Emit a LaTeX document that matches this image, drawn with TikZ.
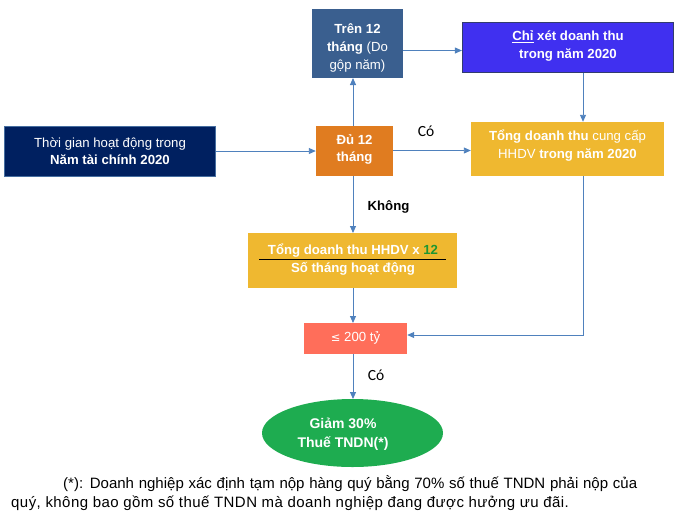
\documentclass[tikz,border=0pt]{standalone}
\usepackage{fontspec}
\setmainfont{Liberation Sans}
\newfontfamily\calib{Carlito}
\newfontfamily\dejavu{DejaVu Sans}
\newfontfamily\footfont[LetterSpace=3]{Liberation Sans}
\usetikzlibrary{arrows.meta,shapes.geometric}
\definecolor{navy}{RGB}{0,32,96}
\definecolor{navyborder}{RGB}{70,110,160}
\definecolor{steel}{RGB}{58,95,143}
\definecolor{violet}{RGB}{64,48,240}
\definecolor{violetborder}{RGB}{50,60,110}
\definecolor{orangeb}{RGB}{224,124,32}
\definecolor{goldb}{RGB}{239,184,48}
\definecolor{salmon}{RGB}{255,110,90}
\definecolor{greenb}{RGB}{30,172,80}
\definecolor{arrowc}{RGB}{79,129,189}
\definecolor{greentxt}{RGB}{30,150,50}
\tikzset{
  box/.style={rectangle, inner sep=0pt},
  txt/.style={text=white, align=center, inner sep=0pt, font=\fontsize{13.2}{18}\selectfont},
  conn/.style={draw=arrowc, line width=0.9pt, -{Triangle[length=7pt,width=6pt]}},
  calibl/.style={font=\calib\fontsize{15.5}{17}\selectfont, text=black},
  foot/.style={anchor=west, inner sep=0pt, font=\fontsize{15}{18}\selectfont}
}
\begin{document}
\begin{tikzpicture}[x=1pt,y=-1pt]
\useasboundingbox (0,0) rectangle (679,520);
% boxes
\node[box, fill=navy, draw=navyborder, line width=1.2pt, minimum width=211pt, minimum height=50pt] (tg) at (110,151.5) {};
\node[txt, font=\fontsize{13.2}{16.5}\selectfont] (tgt) at (110,151) {Thời gian hoạt động trong\\\textbf{Năm tài chính 2020}};
\node[box, fill=steel, minimum width=91pt, minimum height=69pt] (tren) at (357.5,43.5) {};
\node[txt] (trent) at (357.5,48) {\textbf{Trên 12}\\\textbf{tháng} (Do\\gộp năm)};
\node[box, fill=violet, draw=violetborder, line width=1.2pt, minimum width=211pt, minimum height=50pt] (chi) at (568,47.5) {};
\node[txt] (chit) at (568,46) {\textbf{\underline{Chỉ} xét doanh thu}\\\textbf{trong năm 2020}};
\node[box, fill=orangeb, minimum width=77pt, minimum height=50pt] (du) at (354.5,151) {};
\node[txt, font=\fontsize{13.2}{17}\selectfont] (dut) at (354.5,149.5) {\textbf{Đủ 12}\\\textbf{tháng}};
\node[box, fill=goldb, minimum width=193pt, minimum height=54pt] (tong) at (567.5,149) {};
\node[txt] (tongt) at (567.5,146) {\textbf{Tổng doanh thu} cung cấp\\HHDV \textbf{trong năm 2020}};
\node[box, fill=goldb, minimum width=209pt, minimum height=55pt] (frac) at (352.5,260.5) {};
\node[txt, font=\bfseries\fontsize{13.2}{16}\selectfont] (num) at (353,251) {Tổng doanh thu HHDV x \textcolor{greentxt}{12}};
\node[txt, font=\bfseries\fontsize{13.2}{16}\selectfont] (den) at (353,268.5) {Số tháng hoạt động};
\draw[black, line width=0.6pt] (259,259.5) -- (446,259.5);
\node[box, fill=salmon, minimum width=103pt, minimum height=31pt] (le) at (355.5,338.5) {};
\node[txt] (let) at (355.5,337.5) {{\dejavu\fontsize{11.5}{13}\selectfont ≤} 200 tỷ};
\node[ellipse, fill=greenb, inner sep=0pt, minimum width=181pt, minimum height=68pt] (giam) at (352.5,433) {};
\node[txt, font=\bfseries\fontsize{14}{18.5}\selectfont] (giamt) at (343,434) {Giảm 30\%\\Thuế TNDN(*)};
% connectors
\coordinate (corner) at (583,335);
\draw[conn] (tg.east |- 0,151) -- (du.west |- 0,151);
\draw[conn] (353,126) -- (353,78);
\draw[conn] (tren.east |- 0,50.5) -- (chi.west |- 0,50.5);
\draw[conn] (chi.south -| 583,0) -- (tong.north -| 583,0);
\draw[conn] (du.east |- 0,150.5) -- (tong.west |- 0,150.5);
\draw[conn] (353,176) -- (353,233);
\draw[conn] (353,288) -- (353,323);
\draw[conn] (583,176) -- (corner) -- (le.east |- corner);
\draw[conn] (353,354) -- (353,399);
% labels
\node[calibl] (co1) at (426,131) {Có};
\node[font=\bfseries\fontsize{13.2}{15}\selectfont] (khong) at (388.5,207) {Không};
\node[calibl] (co2) at (376,375) {Có};
% footnote
\node[foot] (fn1) at (63,484) {\makebox[574pt][s]{(*): Doanh nghiệp xác định tạm nộp hàng quý bằng 70\% số thuế TNDN phải nộp của}};
\node[foot] (fn2) at (11,503) {\footfont\fontsize{15}{18}\selectfont quý, không bao gồm số thuế TNDN mà doanh nghiệp đang được hưởng ưu đãi.};
\end{tikzpicture}
\end{document}
